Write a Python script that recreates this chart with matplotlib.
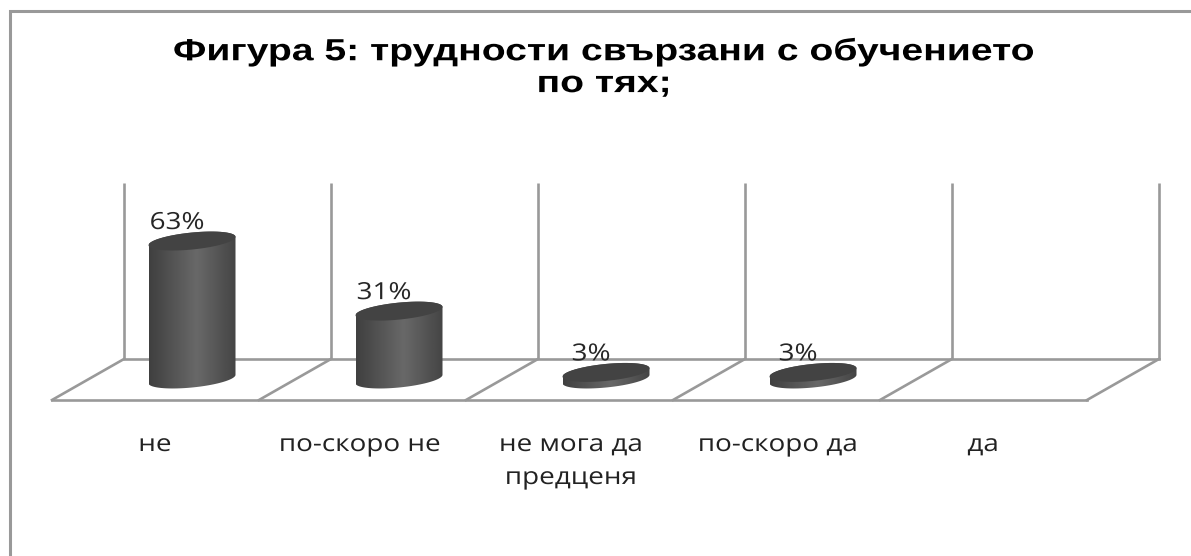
from __future__ import annotations

import numpy as np
import matplotlib

matplotlib.use("Agg")
import matplotlib.patheffects as path_effects
import matplotlib.pyplot as plt
from matplotlib.patches import PathPatch
from matplotlib.path import Path
from matplotlib.transforms import Affine2D

TITLE = "Фигура 5: трудности свързани с обучението\nпо тях;"
CATEGORIES = ["не", "по-скоро не", "не мога да\nпредценя", "по-скоро да", "да"]
VALUES = [63, 31, 3, 3, None]
VALUE_LABELS = ["63%", "31%", "3%", "3%", ""]

WIDTH, HEIGHT = 1191, 556
GRID = "#999999"
BACK_X = 124.0
FRONT_X = 52.0
SLOT = 207.0
BACK_Y = 359.0
FRONT_Y = 400.0
WALL_TOP = 183.0
BAR_BASE_Y = 379.0
PX_PER_PERCENT = 2.19
BAR_HALF_W = 43.5
BAR_HALF_H = 8.5
BAR_TILT = np.radians(-5.5)


class WideText(path_effects.AbstractPathEffect):
    """Stretch a line of text horizontally about its own centre."""

    def __init__(self, factor: float) -> None:
        super().__init__()
        self.factor = factor

    def draw_path(self, renderer, gc, tpath, affine, rgbFace=None):
        box = tpath.get_extents(affine)
        centre = (box.x0 + box.x1) / 2
        stretch = Affine2D().translate(-centre, 0).scale(self.factor, 1).translate(centre, 0)
        renderer.draw_path(gc, tpath, affine + stretch, rgbFace)


def ellipse_points(cx: float, cy: float, start: float, stop: float, n: int = 60) -> np.ndarray:
    t = np.linspace(start, stop, n)
    x = BAR_HALF_W * np.cos(t)
    y = BAR_HALF_H * np.sin(t)
    # tilted because the chart is drawn in perspective
    return np.column_stack((cx + x, cy + y + x * np.tan(BAR_TILT)))


def draw_floor(ax: plt.Axes) -> None:
    count = len(CATEGORIES)
    for i in range(count + 1):
        back = BACK_X + i * SLOT
        front = FRONT_X + i * SLOT
        ax.plot([back, back], [WALL_TOP, BACK_Y], color=GRID, lw=1.9, solid_capstyle="butt")
        ax.plot([front, back], [FRONT_Y, BACK_Y], color=GRID, lw=1.9)
    ax.plot([BACK_X, BACK_X + count * SLOT], [BACK_Y, BACK_Y], color=GRID, lw=1.9)
    ax.plot([FRONT_X, FRONT_X + count * SLOT], [FRONT_Y, FRONT_Y], color=GRID, lw=1.9)


def draw_cylinder(ax: plt.Axes, cx: float, value: float) -> float:
    top_y = BAR_BASE_Y - value * PX_PER_PERCENT
    lower = ellipse_points(cx, BAR_BASE_Y, 0, np.pi)
    upper = ellipse_points(cx, top_y, np.pi, 2 * np.pi)
    outline = np.vstack((lower, upper, lower[:1]))
    body = PathPatch(Path(outline), facecolor="none", edgecolor="none", zorder=3)
    ax.add_patch(body)

    # horizontal shading across the side of the cylinder
    shade = np.interp(np.linspace(0, 1, 128), [0, 0.55, 1], [0.25, 0.41, 0.27])
    img = ax.imshow(
        shade[np.newaxis, :],
        cmap="gray",
        vmin=0,
        vmax=1,
        extent=(cx - BAR_HALF_W, cx + BAR_HALF_W, BAR_BASE_Y + 20, top_y - 20),
        aspect="auto",
        interpolation="bilinear",
        zorder=3,
    )
    img.set_clip_path(body)

    top = ellipse_points(cx, top_y, 0, 2 * np.pi)
    ax.fill(top[:, 0], top[:, 1], color="#434343", lw=0, zorder=4)
    return top_y


def main() -> None:
    fig = plt.figure(figsize=(WIDTH / 100, HEIGHT / 100), dpi=100)
    ax = fig.add_axes([0, 0, 1, 1])

    # left and top edges of the chart frame
    ax.plot([10, 10, WIDTH], [HEIGHT, 11, 11], color=GRID, lw=2.2, solid_joinstyle="miter")
    draw_floor(ax)

    for i, (value, label) in enumerate(zip(VALUES, VALUE_LABELS)):
        if value is None:
            continue
        cx = 192 + i * 207
        top_y = draw_cylinder(ax, cx, value)
        ax.text(
            cx - 15, top_y - 6, label, ha="center", va="bottom",
            fontsize=17, color="#262626", family="Open Sans", zorder=5,
            path_effects=[WideText(1.18)],
        )

    label_x = [155, 360, 571, 778, 983]
    for x, name in zip(label_x, CATEGORIES):
        ax.text(
            x, 433, name, ha="center", va="top", linespacing=1.5,
            fontsize=17, color="#222222", family="Open Sans",
            path_effects=[WideText(1.18)],
        )

    ax.text(
        604, 68, TITLE, ha="center", va="center", linespacing=1.08,
        fontsize=22, fontweight="bold", color="black", family="Liberation Sans",
        path_effects=[WideText(1.28)],
    )

    ax.set_xlim(0, WIDTH)
    ax.set_ylim(HEIGHT, 0)
    ax.axis("off")
    fig.savefig("out.png", dpi=100, facecolor="white")
    plt.close(fig)


if __name__ == "__main__":
    main()
